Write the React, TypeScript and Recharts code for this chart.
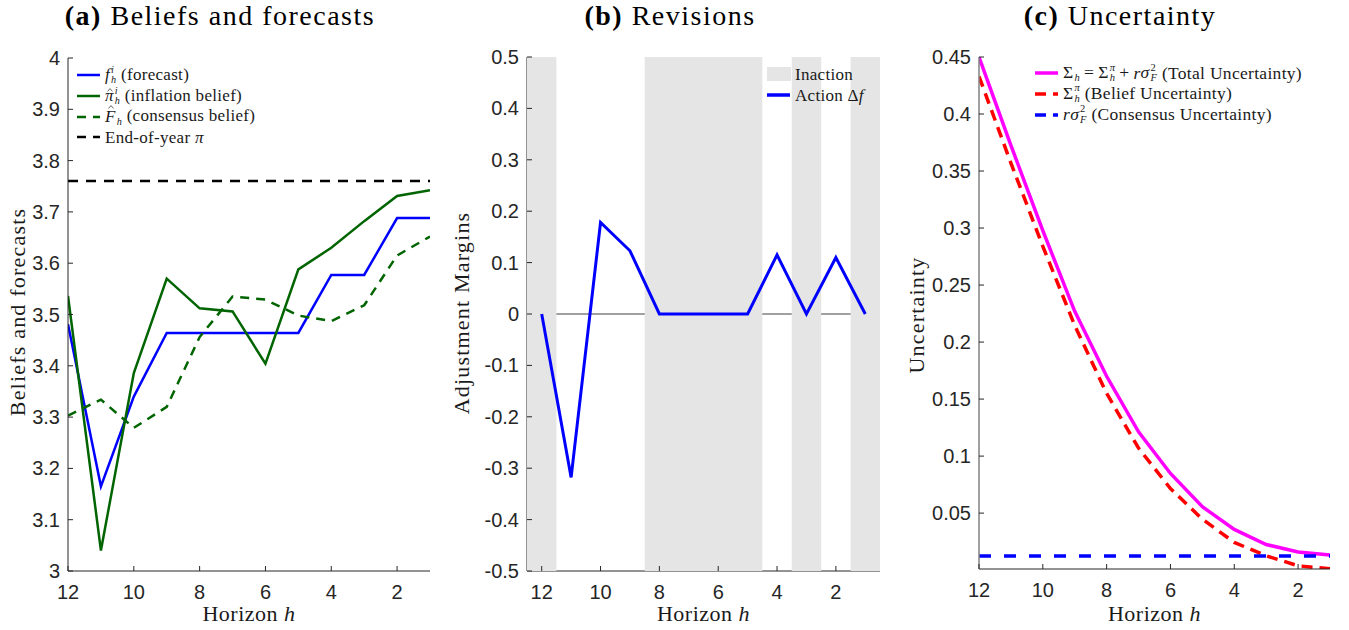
import React from "react"
import { LineChart, ComposedChart, Line, XAxis, YAxis, ReferenceLine, ReferenceArea } from "recharts"

// horizon h runs from 12 months out down to 1
const HORIZONS = [12, 11, 10, 9, 8, 7, 6, 5, 4, 3, 2, 1]
const H_TICKS = [2, 4, 6, 8, 10, 12]

// (a) beliefs and forecasts
const FORECAST = [3.481, 3.165, 3.34, 3.464, 3.464, 3.464, 3.464, 3.464, 3.577, 3.577, 3.688, 3.688]
const INFLATION_BELIEF = [3.536, 3.04, 3.386, 3.57, 3.512, 3.506, 3.404, 3.588, 3.63, 3.682, 3.731, 3.742]
const CONSENSUS_BELIEF = [3.303, 3.334, 3.279, 3.32, 3.456, 3.535, 3.529, 3.498, 3.487, 3.518, 3.615, 3.652]
const END_OF_YEAR_PI = 3.76
const BELIEF_TICKS = [3, 3.1, 3.2, 3.3, 3.4, 3.5, 3.6, 3.7, 3.8, 3.9, 4]

// (b) revisions; 1 = inaction month
const REVISION = [0, -0.318, 0.178, 0.123, 0, 0, 0, 0, 0.115, 0, 0.11, 0]
const INACTION = [1, 0, 0, 0, 1, 1, 1, 1, 0, 1, 0, 1]
const REVISION_TICKS = [-0.5, -0.4, -0.3, -0.2, -0.1, 0, 0.1, 0.2, 0.3, 0.4, 0.5]

// (c) uncertainty
const TOTAL_UNCERTAINTY = [0.45, 0.3725, 0.2977, 0.227, 0.17, 0.1213, 0.0848, 0.0556, 0.0357, 0.0225, 0.016, 0.0132]
const BELIEF_UNCERTAINTY = [0.433, 0.357, 0.284, 0.2145, 0.155, 0.107, 0.0716, 0.0447, 0.0243, 0.0126, 0.0038, 0.0012]
const CONSENSUS_UNCERTAINTY = 0.0125
const UNCERTAINTY_TICKS = [0.05, 0.1, 0.15, 0.2, 0.25, 0.3, 0.35, 0.4, 0.45]

const BLUE = "#0000ff"
const GREEN = "#006400"
const MAGENTA = "#ff00ff"
const RED = "#ff0000"
const AXIS = "#262626"
const SHADE = "#e5e5e5"
const SANS = '"Liberation Sans", Arial, Helvetica, sans-serif'
const SERIF = '"Liberation Serif", "Times New Roman", serif'

const beliefRows = HORIZONS.map((h, i) => ({
  h,
  forecast: FORECAST[i],
  inflation: INFLATION_BELIEF[i],
  consensus: CONSENSUS_BELIEF[i],
}))

const revisionRows = HORIZONS.map((h, i) => ({ h, revision: REVISION[i] }))

// merge consecutive inaction months into shaded spans, half a month either side
const inactionSpans: { from: number; to: number }[] = []
HORIZONS.forEach((h, i) => {
  if (!INACTION[i]) return
  const last = inactionSpans[inactionSpans.length - 1]
  if (last && i > 0 && INACTION[i - 1]) last.to = h - 0.5
  else inactionSpans.push({ from: h + 0.5, to: h - 0.5 })
})

const uncertaintyRows = HORIZONS.map((h, i) => ({
  h,
  total: TOTAL_UNCERTAINTY[i],
  belief: BELIEF_UNCERTAINTY[i],
}))

// MATLAB-style ticks: marks point into the plot, labels sit outside
function HorizonTick({ x, y, payload }: any) {
  return (
    <g>
      <line x1={x} x2={x} y1={y} y2={y - 5} stroke={AXIS} strokeWidth={1} />
      <text x={x} y={y + 28} textAnchor="middle" fontFamily={SANS} fontSize={20} fill={AXIS}>
        {payload.value}
      </text>
    </g>
  )
}

function ValueTick({ x, y, payload }: any) {
  return (
    <g>
      <line x1={x} x2={x + 5} y1={y} y2={y} stroke={AXIS} strokeWidth={1} />
      <text x={x - 8} y={y + 7} textAnchor="end" fontFamily={SANS} fontSize={20} fill={AXIS}>
        {String(payload.value)}
      </text>
    </g>
  )
}

// circumflex accent drawn as a tiny path so it sits over italic glyphs cleanly
function Hat({ children, top }: { children: React.ReactNode; top: string }) {
  return (
    <span style={{ position: "relative", display: "inline-block" }}>
      {children}
      <svg
        viewBox="0 0 10 6"
        style={{
          position: "absolute",
          left: "58%",
          top,
          width: "0.42em",
          height: "0.22em",
          transform: "translateX(-50%)",
          overflow: "visible",
        }}
      >
        <path d="M1 5.5 L5 1 L9 5.5" fill="none" stroke="currentColor" strokeWidth={1.1} />
      </svg>
    </span>
  )
}

function Scripted({ base, sub, sup }: { base: React.ReactNode; sub: React.ReactNode; sup?: React.ReactNode }) {
  return (
    <span>
      {base}
      <span
        style={{
          display: "inline-block",
          verticalAlign: "-0.3em",
          fontSize: "0.6em",
          lineHeight: 1.02,
          marginLeft: 1,
        }}
      >
        <span style={{ display: "block", visibility: sup == null ? "hidden" : "visible" }}>{sup ?? "x"}</span>
        <span style={{ display: "block" }}>{sub}</span>
      </span>
    </span>
  )
}

function Op({ children }: { children: React.ReactNode }) {
  return <span style={{ margin: "0 4px" }}>{children}</span>
}

function PanelTitle({ tag, text }: { tag: string; text: string }) {
  return (
    <div
      style={{
        position: "absolute",
        left: -30,
        width: 500,
        top: 0,
        textAlign: "center",
        fontFamily: SERIF,
        fontSize: 28,
        lineHeight: "32px",
        letterSpacing: 1.5,
        color: "#000",
        whiteSpace: "nowrap",
      }}
    >
      <b>{tag}</b> {text}
    </div>
  )
}

function HorizonLabel({ cx }: { cx: number }) {
  return (
    <div
      style={{
        position: "absolute",
        left: cx - 100,
        width: 200,
        top: 604,
        textAlign: "center",
        fontFamily: SERIF,
        fontSize: 22,
        lineHeight: "20px",
        letterSpacing: 0.5,
        color: "#1a1a1a",
      }}
    >
      Horizon <i>h</i>
    </div>
  )
}

function SideLabel({ text, cx, cy }: { text: string; cx: number; cy: number }) {
  return (
    <div
      style={{
        position: "absolute",
        left: cx,
        top: cy,
        transform: "translate(-50%, -50%) rotate(-90deg)",
        whiteSpace: "nowrap",
        fontFamily: SERIF,
        fontSize: 22,
        lineHeight: "26px",
        letterSpacing: 1.2,
        color: "#1a1a1a",
      }}
    >
      {text}
    </div>
  )
}

function KeyRow({
  color,
  dash,
  width = 2.5,
  box,
  children,
}: {
  color: string
  dash?: string
  width?: number
  box?: boolean
  children: React.ReactNode
}) {
  return (
    <div style={{ display: "flex", alignItems: "center", height: 20.7 }}>
      <svg width={24} height={16} style={{ flex: "none" }}>
        {box ? (
          <rect x={0} y={1} width={24} height={14} fill={color} />
        ) : (
          <line x1={0} x2={23} y1={8} y2={8} stroke={color} strokeWidth={width} strokeDasharray={dash} />
        )}
      </svg>
      <span style={{ marginLeft: 4, whiteSpace: "nowrap" }}>{children}</span>
    </div>
  )
}

const keyStyle: React.CSSProperties = {
  position: "absolute",
  fontFamily: SERIF,
  fontSize: 17,
  lineHeight: "17px",
  letterSpacing: 0.3,
  color: "#1a1a1a",
}

const xAxisCommon = {
  dataKey: "h",
  type: "number" as const,
  reversed: true,
  ticks: H_TICKS,
  interval: 0 as const,
  tick: (p: any) => <HorizonTick {...p} />,
  tickSize: 0,
  tickMargin: 0,
  tickLine: false,
  height: 30,
  allowDataOverflow: true,
}

function BeliefsPanel() {
  return (
    <div style={{ position: "absolute", left: 0, top: 0, width: 450, height: 630 }}>
      <LineChart width={450} height={630} data={beliefRows} margin={{ top: 58, right: 20, bottom: 29, left: 8 }}>
        <XAxis {...xAxisCommon} domain={[1, 12]} axisLine={{ stroke: AXIS }} />
        <YAxis
          type="number"
          domain={[3, 4]}
          ticks={BELIEF_TICKS}
          interval={0}
          tick={(p: any) => <ValueTick {...p} />}
          tickSize={0}
          tickMargin={0}
          tickLine={false}
          axisLine={{ stroke: AXIS }}
          width={60}
          allowDataOverflow
        />
        <ReferenceLine y={END_OF_YEAR_PI} stroke="#000" strokeWidth={2.5} strokeDasharray="10 8" />
        <Line dataKey="forecast" stroke={BLUE} strokeWidth={2.5} dot={false} isAnimationActive={false} />
        <Line dataKey="inflation" stroke={GREEN} strokeWidth={2.5} dot={false} isAnimationActive={false} />
        <Line
          dataKey="consensus"
          stroke={GREEN}
          strokeWidth={2.5}
          strokeDasharray="9 7"
          dot={false}
          isAnimationActive={false}
        />
      </LineChart>
      <PanelTitle tag="(a)" text="Beliefs and forecasts" />
      <SideLabel text="Beliefs and forecasts" cx={18} cy={312} />
      <HorizonLabel cx={249} />
      <div style={{ ...keyStyle, left: 77, top: 65 }}>
        <KeyRow color={BLUE}>
          <Scripted base={<i>f</i>} sub={<i>h</i>} sup={<i>i</i>} /> (forecast)
        </KeyRow>
        <KeyRow color={GREEN}>
          <Scripted base={<Hat top="0.08em"><i>π</i></Hat>} sub={<i>h</i>} sup={<i>i</i>} /> (inflation belief)
        </KeyRow>
        <KeyRow color={GREEN} dash="9 7">
          <Scripted base={<Hat top="-0.18em"><i>F</i></Hat>} sub={<i>h</i>} /> (consensus belief)
        </KeyRow>
        <KeyRow color="#000" dash="9 7">
          End-of-year <i>π</i>
        </KeyRow>
      </div>
    </div>
  )
}

function RevisionsPanel() {
  return (
    <div style={{ position: "absolute", left: 450, top: 0, width: 450, height: 630 }}>
      <ComposedChart
        width={450}
        height={630}
        data={revisionRows}
        margin={{ top: 57, right: 20, bottom: 29, left: 17 }}
      >
        <XAxis {...xAxisCommon} domain={[0.5, 12.5]} axisLine={{ stroke: AXIS }} />
        <YAxis
          type="number"
          domain={[-0.5, 0.5]}
          ticks={REVISION_TICKS}
          interval={0}
          tick={(p: any) => <ValueTick {...p} />}
          tickSize={0}
          tickMargin={0}
          tickLine={false}
          axisLine={{ stroke: AXIS }}
          width={60}
          allowDataOverflow
        />
        <ReferenceLine y={0} stroke="#404040" strokeWidth={1} />
        {inactionSpans.map((s) => (
          <ReferenceArea
            key={s.from}
            x1={s.from}
            x2={s.to}
            y1={-0.5}
            y2={0.5}
            fill={SHADE}
            fillOpacity={1}
            stroke="none"
            ifOverflow="visible"
            zIndex={550}
          />
        ))}
        <Line
          dataKey="revision"
          stroke={BLUE}
          strokeWidth={3}
          dot={false}
          isAnimationActive={false}
          zIndex={600}
        />
      </ComposedChart>
      <PanelTitle tag="(b)" text="Revisions" />
      <SideLabel text="Adjustment Margins" cx={12} cy={313} />
      <HorizonLabel cx={253.5} />
      <div style={{ ...keyStyle, left: 317, top: 64 }}>
        <KeyRow color={SHADE} box>
          Inaction
        </KeyRow>
        <KeyRow color={BLUE} width={3.5}>
          Action Δ<i>f</i>
        </KeyRow>
      </div>
    </div>
  )
}

function UncertaintyPanel() {
  return (
    <div style={{ position: "absolute", left: 900, top: 0, width: 449, height: 630 }}>
      <LineChart
        width={449}
        height={630}
        data={uncertaintyRows}
        margin={{ top: 57, right: 19, bottom: 31, left: 19 }}
      >
        <XAxis {...xAxisCommon} domain={[1, 12]} axisLine={{ stroke: AXIS }} />
        <YAxis
          type="number"
          domain={[0.001, 0.45]}
          ticks={UNCERTAINTY_TICKS}
          interval={0}
          tick={(p: any) => <ValueTick {...p} />}
          tickSize={0}
          tickMargin={0}
          tickLine={false}
          axisLine={{ stroke: "#808080", strokeWidth: 1.5 }}
          width={60}
          allowDataOverflow
        />
        <Line dataKey="total" stroke={MAGENTA} strokeWidth={3.5} dot={false} isAnimationActive={false} />
        <Line
          dataKey="belief"
          stroke={RED}
          strokeWidth={3.5}
          strokeDasharray="11 7"
          dot={false}
          isAnimationActive={false}
        />
        <ReferenceLine y={CONSENSUS_UNCERTAINTY} stroke={BLUE} strokeWidth={3.5} strokeDasharray="12 13" />
      </LineChart>
      <PanelTitle tag="(c)" text="Uncertainty" />
      <SideLabel text="Uncertainty" cx={17} cy={315} />
      <HorizonLabel cx={254.5} />
      <div style={{ ...keyStyle, left: 135, top: 63, fontSize: 17.5 }}>
        <KeyRow color={MAGENTA} width={3.5}>
          <Scripted base="Σ" sub={<i>h</i>} />
          <Op>=</Op>
          <Scripted base="Σ" sub={<i>h</i>} sup={<i>π</i>} />
          <Op>+</Op>
          <i>r</i>
          <Scripted base={<i>σ</i>} sub={<i>F</i>} sup="2" /> (Total Uncertainty)
        </KeyRow>
        <KeyRow color={RED} width={3.5} dash="11 7">
          <Scripted base="Σ" sub={<i>h</i>} sup={<i>π</i>} /> (Belief Uncertainty)
        </KeyRow>
        <KeyRow color={BLUE} width={3.5} dash="11 7">
          <i>r</i>
          <Scripted base={<i>σ</i>} sub={<i>F</i>} sup="2" /> (Consensus Uncertainty)
        </KeyRow>
      </div>
    </div>
  )
}

export default function App() {
  return (
    <div
      style={{
        position: "absolute",
        left: 0,
        top: 0,
        width: 1349,
        height: 630,
        background: "#fff",
        overflow: "hidden",
      }}
    >
      <BeliefsPanel />
      <RevisionsPanel />
      <UncertaintyPanel />
    </div>
  )
}
